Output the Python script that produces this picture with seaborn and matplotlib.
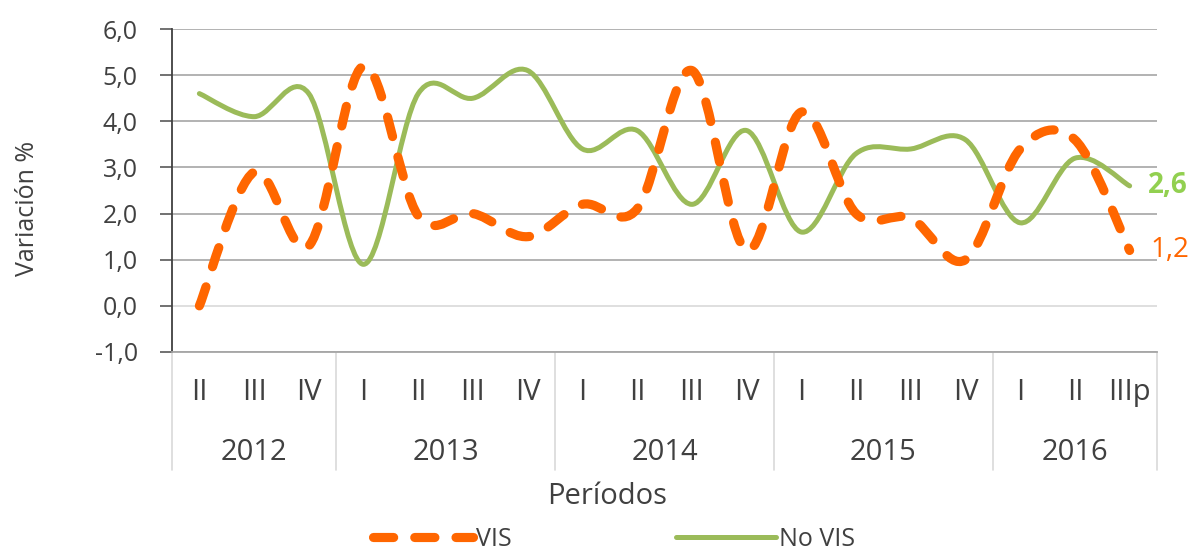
import numpy as np
import seaborn as sns
import matplotlib
matplotlib.use("Agg")
from matplotlib import pyplot as plt
from matplotlib.path import Path
from matplotlib.patches import PathPatch
from matplotlib.lines import Line2D

# data
years = ["2012", "2013", "2014", "2015", "2016"]
quarters = [["II", "III", "IV"],
            ["I", "II", "III", "IV"],
            ["I", "II", "III", "IV"],
            ["I", "II", "III", "IV"],
            ["I", "II", "IIIp"]]
vis = [0.0, 2.9, 1.3, 5.2, 1.95, 2.0, 1.5, 2.2, 2.1, 5.1, 1.2, 4.2, 2.0, 1.9, 1.0, 3.4, 3.6, 1.2]
no_vis = [4.6, 4.1, 4.6, 0.9, 4.6, 4.5, 5.1, 3.4, 3.8, 2.2, 3.8, 1.6, 3.3, 3.4, 3.6, 1.8, 3.2, 2.6]
y_ticks = [-1, 0, 1, 2, 3, 4, 5, 6]

ORANGE = "#FF6600"
GREEN = "#9BBB59"
GREEN_LBL = "#92D050"
TXT = "#404040"

sns.set_theme(style="white")
plt.rcParams['font.family'] = ['Open Sans', 'DejaVu Sans']


def smooth_path(ys):
    # excel-like smoothed line: bezier segments through the data points
    pts = np.column_stack([np.arange(len(ys)), ys]).astype(float)
    ext = np.vstack([pts[0], pts, pts[-1]])
    verts = [pts[0]]
    codes = [Path.MOVETO]
    for i in range(len(pts) - 1):
        p0, p1, p2, p3 = ext[i], ext[i + 1], ext[i + 2], ext[i + 3]
        verts += [p1 + (p2 - p0) / 6, p2 - (p3 - p1) / 6, p2]
        codes += [Path.CURVE4] * 3
    return Path(verts, codes)


labels = [q for qs in quarters for q in qs]
n = len(labels)

fig = plt.figure(figsize=(11.94, 5.5), dpi=100)
ax = fig.add_axes([172 / 1194, 1 - 352 / 550, (1157 - 172) / 1194, (352 - 29) / 550])

# green line first, orange on top
p_nv = PathPatch(smooth_path(no_vis), fill=False, edgecolor=GREEN, lw=3.6,
                 capstyle="round", joinstyle="round", zorder=3)
ax.add_patch(p_nv)
p_v = PathPatch(smooth_path(vis), fill=False, edgecolor=ORANGE, lw=6.6,
                linestyle=(0, (2.2, 2.3)), capstyle="round", joinstyle="round", zorder=4)
ax.add_patch(p_v)

ax.set_xlim(-0.5, n - 0.5)
ax.set_ylim(-1, 6)
ax.set_yticks(y_ticks)
ax.set_yticklabels([f"{v:.1f}".replace(".", ",") for v in y_ticks])
ax.set_xticks(range(n))
ax.set_xticklabels(labels)
ax.tick_params(axis="y", length=8.6, width=1.2, color="#595959", direction="out",
               labelsize=18, labelcolor=TXT, pad=16, left=True)
ax.tick_params(axis="x", length=0, labelsize=21, labelcolor=TXT, pad=19)

ax.grid(axis="y", color="#A6A6A6", lw=1.2)
ax.grid(axis="x", visible=False)
for v, gl in zip(y_ticks, ax.get_ygridlines()):
    if v == 0:
        gl.set_color("#D9D9D9")
ax.set_axisbelow(True)

sns.despine(ax=ax, top=True, right=True)
ax.spines["left"].set_color("#404040")
ax.spines["left"].set_linewidth(1.3)
ax.spines["bottom"].set_color("#A6A6A6")
ax.spines["bottom"].set_linewidth(1.3)

# year groups below the quarters
trans = ax.get_xaxis_transform()
start = 0
bounds = [-0.5]
for yr, qs in zip(years, quarters):
    mid = start + (len(qs) - 1) / 2
    ax.text(mid, -0.31, yr, transform=trans, ha="center", va="center",
            fontsize=21, color=TXT)
    start += len(qs)
    bounds.append(start - 0.5)
for b in bounds:
    ax.plot([b, b], [0, -0.365], transform=trans, color="#D9D9D9", lw=1.2,
            clip_on=False)

# end labels
ax.annotate(f"{no_vis[-1]:.1f}".replace(".", ","), xy=(n - 1, no_vis[-1]),
            xytext=(13, 0), textcoords="offset points", ha="left", va="center",
            fontsize=20, fontweight="bold", color=GREEN_LBL, annotation_clip=False)
ax.annotate(f"{vis[-1]:.1f}".replace(".", ","), xy=(n - 1, vis[-1]),
            xytext=(15, 0), textcoords="offset points", ha="left", va="center",
            fontsize=20, color=ORANGE, annotation_clip=False)

fig.text(27 / 1194, 1 - 208 / 550, "Variación %", rotation=90, ha="center",
         va="center", fontsize=18, color=TXT)
fig.text(607 / 1194, 1 - 497 / 550, "Períodos", ha="center", va="center",
         fontsize=21, color=TXT)

handles = [Line2D([], [], color=ORANGE, lw=6.6, linestyle=(0, (2.2, 2.3)),
                  dash_capstyle="round"),
           Line2D([], [], color=GREEN, lw=3.6, solid_capstyle="round")]
fig.legend(handles, ["VIS", "No VIS"], loc="center", bbox_to_anchor=(614 / 1194, 1 - 539 / 550),
           ncol=2, frameon=False, fontsize=18, handlelength=4.0, handletextpad=0.1,
           columnspacing=6.6, labelcolor=TXT, borderpad=0)

fig.savefig("out.png", dpi=100)
